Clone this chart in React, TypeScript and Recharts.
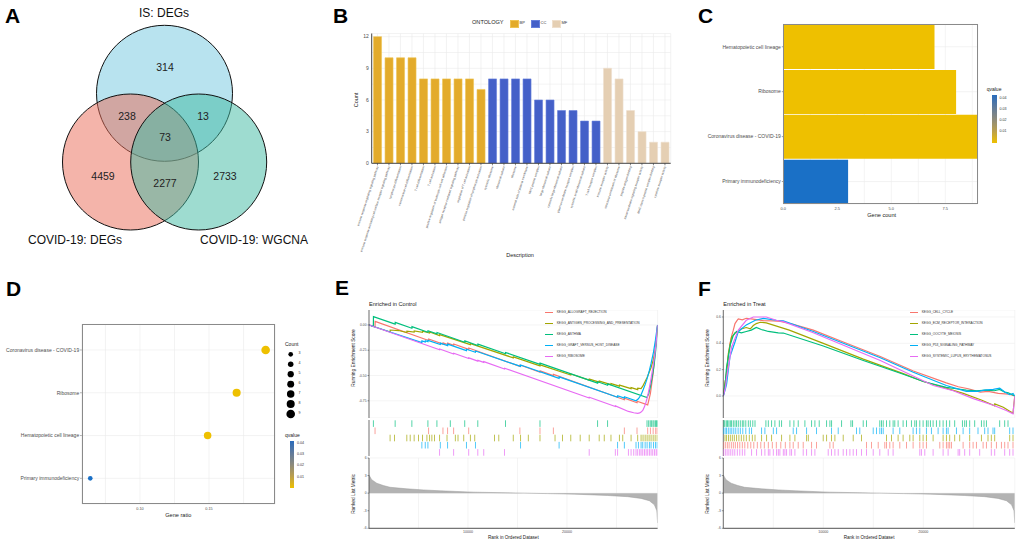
import React from 'react';
import {
  ScatterChart, Scatter, XAxis, YAxis, ZAxis, BarChart, Bar, Cell, CartesianGrid,
  LineChart, Line, AreaChart, Area,
} from 'recharts';

const FONT = '"Liberation Sans", Arial, Helvetica, sans-serif';

// ---------- A: Venn ----------
const vennSets = [
  { name: 'IS: DEGs', x: 164.5, y: 93.3, color: '#71c7df' },
  { name: 'COVID-19: DEGs', x: 130.5, y: 162, color: '#e96955' },
  { name: 'COVID-19: WGCNA', x: 198.7, y: 162, color: '#3db9a1' },
];
const vennCounts = [
  { label: '314', x: 165, y: 67 },
  { label: '238', x: 127, y: 116 },
  { label: '13', x: 203, y: 116 },
  { label: '73', x: 165, y: 137 },
  { label: '4459', x: 103, y: 176 },
  { label: '2277', x: 165, y: 183 },
  { label: '2733', x: 225, y: 176 },
];
const vennLabels = [
  { label: 'IS: DEGs', x: 164, y: 13 },
  { label: 'COVID-19: DEGs', x: 75, y: 240 },
  { label: 'COVID-19: WGCNA', x: 254, y: 240 },
];

// ---------- B: GO enrichment ----------
const goTerms = [
  'immune response-regulating signaling pathway',
  'immune response-activating cell surface receptor signaling pathway',
  'lymphocyte differentiation',
  'mononuclear cell differentiation',
  'T cell differentiation',
  'T cell activation',
  'positive regulation of leukocyte cell-cell adhesion',
  'antigen receptor-mediated signaling pathway',
  'regulation of T cell activation',
  'positive regulation of lymphocyte activation',
  'cytosolic ribosome',
  'ribosomal subunit',
  'ribosome',
  'external side of plasma membrane',
  'MHC protein complex',
  'large ribosomal subunit',
  'cytosolic large ribosomal subunit',
  'plasma membrane receptor complex',
  'cytosolic small ribosomal subunit',
  'T cell receptor complex',
  'immune receptor activity',
  'structural constituent of ribosome',
  'peptide antigen binding',
  'transmembrane signaling receptor activity',
  'MHC class II protein complex binding',
  'cytokine receptor activity',
];
const goOntology = [
  'BP', 'BP', 'BP', 'BP', 'BP', 'BP', 'BP', 'BP', 'BP', 'BP',
  'CC', 'CC', 'CC', 'CC', 'CC', 'CC', 'CC', 'CC', 'CC', 'CC',
  'MF', 'MF', 'MF', 'MF', 'MF', 'MF',
];
const goCounts = [12, 10, 10, 10, 8, 8, 8, 8, 8, 7, 8, 8, 8, 8, 6, 6, 5, 5, 4, 4, 9, 8, 5, 3, 2, 2];
const ontologyNames = ['BP', 'CC', 'MF'];
const ontologyColors: Record<string, string> = { BP: '#e3ab2b', CC: '#4460c8', MF: '#e5cfb3' };
const ontologyEdge: Record<string, string> = { BP: '#efc453', CC: '#6680dc', MF: '#efdfcc' };

// ---------- C / D: KEGG enrichment ----------
const keggTerms = ['Hematopoietic cell lineage', 'Ribosome', 'Coronavirus disease - COVID-19', 'Primary immunodeficiency'];
const keggCounts = [7, 8, 9, 3];
const keggRatios = [0.149, 0.170, 0.191, 0.064];
const keggQvalues = [0.0021, 0.0015, 0.0012, 0.046];
const qTicks = ['0.04', '0.03', '0.02', '0.01'];
const countLegend = [3, 4, 5, 6, 7, 8, 9];

// ---------- E / F: GSEA ----------
const N_GENES = 29150;
const rankGrid = [5000, 10000, 15000, 20000, 25000];
const setColors = ['#F8766D', '#A3A500', '#00BF7D', '#00B0F6', '#E76BF3'];

const controlSets = [
  'KEGG_ALLOGRAFT_REJECTION',
  'KEGG_ANTIGEN_PROCESSING_AND_PRESENTATION',
  'KEGG_ASTHMA',
  'KEGG_GRAFT_VERSUS_HOST_DISEASE',
  'KEGG_RIBOSOME',
];
const treatSets = [
  'KEGG_CELL_CYCLE',
  'KEGG_ECM_RECEPTOR_INTERACTION',
  'KEGG_OOCYTE_MEIOSIS',
  'KEGG_P53_SIGNALING_PATHWAY',
  'KEGG_SYSTEMIC_LUPUS_ERYTHEMATOSUS',
];

// running enrichment score, [rank, score]
const esAllograft = [[0, 0], [610, -0.02], [620, 0.035], [6020, -0.154], [6030, -0.139], [7470, -0.19], [7480, -0.177], [7940, -0.193], [7950, -0.18], [8550, -0.201], [8560, -0.188], [10070, -0.241], [10080, -0.228], [15240, -0.409], [15250, -0.396], [17270, -0.467], [17280, -0.454], [18620, -0.501], [18630, -0.488], [25790, -0.739], [25800, -0.724], [27070, -0.769], [27080, -0.754], [28150, -0.79], [28420, -0.68], [28700, -0.48], [28960, -0.2], [29100, -0.05], [29150, 0]];
const esAntigen = [[0, 0], [2130, -0.07], [2140, -0.05], [3000, -0.055], [3820, -0.075], [3830, -0.062], [4560, -0.07], [4570, -0.058], [5410, -0.072], [5420, -0.062], [6120, -0.08], [6130, -0.07], [7130, -0.105], [7140, -0.095], [10240, -0.195], [10250, -0.185], [14570, -0.325], [14580, -0.315], [17270, -0.405], [17280, -0.395], [20380, -0.495], [20390, -0.485], [22240, -0.545], [22250, -0.535], [23250, -0.565], [23260, -0.555], [24440, -0.59], [24450, -0.58], [25290, -0.605], [25300, -0.595], [26470, -0.63], [26480, -0.62], [27140, -0.64], [27150, -0.625], [27480, -0.63], [27680, -0.6], [27890, -0.56], [28090, -0.52], [28290, -0.47], [28490, -0.42], [28700, -0.35], [28900, -0.25], [29100, -0.07], [29150, 0]];
const esAsthma = [[0, 0], [440, -0.015], [450, 0.082], [2640, 0.008], [2650, 0.025], [4330, -0.032], [4340, -0.017], [5950, -0.072], [5960, -0.057], [6860, -0.088], [6870, -0.075], [9670, -0.171], [9680, -0.158], [10990, -0.203], [11000, -0.19], [13790, -0.285], [13800, -0.272], [17270, -0.39], [17280, -0.377], [23090, -0.575], [23100, -0.562], [24100, -0.596], [24110, -0.583], [28080, -0.718], [28250, -0.68], [28400, -0.62], [28520, -0.56], [28680, -0.47], [28790, -0.4], [28930, -0.28], [29050, -0.15], [29150, 0]];
const esGvhd = [[0, 0], [5340, -0.175], [5350, -0.158], [5680, -0.169], [5690, -0.156], [5950, -0.165], [5960, -0.152], [7200, -0.193], [7210, -0.18], [7940, -0.204], [7950, -0.19], [9840, -0.254], [9850, -0.24], [10750, -0.27], [10760, -0.257], [15310, -0.41], [15320, -0.396], [19200, -0.528], [19210, -0.514], [25110, -0.715], [25120, -0.7], [25790, -0.724], [25800, -0.71], [26970, -0.75], [27210, -0.73], [27480, -0.69], [27650, -0.65], [27890, -0.59], [28090, -0.53], [28320, -0.45], [28490, -0.38], [28730, -0.27], [28930, -0.15], [29100, -0.03], [29150, 0]];
const esRibosome = [[0, 0], [7130, -0.245], [7140, -0.238], [8550, -0.287], [8560, -0.28], [10070, -0.332], [10080, -0.325], [10990, -0.357], [11000, -0.35], [11590, -0.37], [11600, -0.363], [13690, -0.435], [13700, -0.428], [22240, -0.722], [22250, -0.715], [24880, -0.806], [24890, -0.8], [26200, -0.855], [26740, -0.868], [27140, -0.874], [27340, -0.87], [27480, -0.862], [27650, -0.845], [27820, -0.81], [27990, -0.76], [28150, -0.7], [28320, -0.62], [28490, -0.53], [28660, -0.43], [28830, -0.32], [29000, -0.18], [29150, 0]];

const esCellCycle = [[0, 0], [150, 0.08], [330, 0.19], [500, 0.3], [670, 0.4], [850, 0.46], [1000, 0.5], [1170, 0.55], [1350, 0.57], [1500, 0.585], [1900, 0.578], [2300, 0.59], [2800, 0.585], [3300, 0.58], [4000, 0.572], [5000, 0.57], [5700, 0.566], [7000, 0.545], [9000, 0.5], [12000, 0.41], [15700, 0.3], [19000, 0.19], [22300, 0.1], [23500, 0.07], [24500, 0.055], [25700, 0.03], [26500, 0.035], [27500, 0.02], [28500, 0.015], [29150, 0]];
const esEcm = [[0, 0], [170, 0.1], [330, 0.17], [500, 0.32], [830, 0.45], [1000, 0.46], [1170, 0.48], [1500, 0.49], [1800, 0.51], [2300, 0.52], [2700, 0.51], [3000, 0.535], [3300, 0.55], [3700, 0.56], [4300, 0.555], [6600, 0.5], [10000, 0.4], [14000, 0.28], [18000, 0.17], [20000, 0.11], [22000, 0.065], [24000, 0.02], [25800, -0.03], [27140, -0.075], [27150, -0.06], [28000, -0.085], [28640, -0.115], [28970, -0.13], [29150, 0]];
const esOocyte = [[0, 0], [200, 0.1], [330, 0.22], [700, 0.39], [1000, 0.46], [1330, 0.49], [1800, 0.48], [2300, 0.49], [2800, 0.5], [3300, 0.52], [3800, 0.505], [4500, 0.49], [5500, 0.48], [6000, 0.478], [10000, 0.38], [14000, 0.27], [18000, 0.165], [20000, 0.11], [22300, 0.065], [23300, 0.055], [24300, 0.045], [25300, 0.04], [26300, 0.045], [27100, 0.04], [27640, 0.05], [28140, 0.03], [28500, 0.025], [29150, 0]];
const esP53 = [[0, 0], [200, 0.05], [330, 0.09], [670, 0.3], [1170, 0.41], [1500, 0.49], [2300, 0.54], [3200, 0.575], [4000, 0.59], [5300, 0.575], [6000, 0.57], [9000, 0.49], [15700, 0.29], [19000, 0.18], [22300, 0.08], [24300, 0.035], [25500, 0.035], [26100, 0.045], [27000, 0.05], [27640, 0.06], [28140, 0.03], [28640, 0.01], [28970, 0.02], [29150, 0]];
const esSle = [[0, 0], [200, 0.06], [330, 0.14], [830, 0.37], [1500, 0.5], [2300, 0.575], [3000, 0.6], [4300, 0.6], [5300, 0.575], [6000, 0.565], [9000, 0.48], [15700, 0.27], [21000, 0.08], [23000, 0.04], [25000, -0.02], [27000, -0.07], [28300, -0.11], [28970, -0.135], [29150, 0]];

// gene hit positions (rank) for the rug rows
const hitsAllograft = [610, 6020, 7470, 7940, 8550, 10070, 15240, 17270, 18620, 25790, 27070, 28150, 28420, 28700, 28960, 29100];
const hitsAntigen = [2130, 2570, 3820, 4160, 4560, 5000, 5410, 5850, 6120, 6350, 6620, 7130, 7880, 8720, 8990, 9570, 10240, 10680, 12680, 13110, 14570, 15310, 16090, 17270, 18790, 19540, 20380, 21330, 22240, 23250, 23760, 24440, 25290, 25630, 26470, 27140, 27480, 27680, 27890, 28090, 28290, 28490, 28700, 28900, 29100];
const hitsAsthma = [440, 2640, 4330, 5950, 6860, 8210, 9670, 10990, 13790, 17270, 23090, 24100, 28080, 28250, 28400, 28520, 28680, 28790, 28930, 29050, 29120];
const hitsGvhd = [5340, 5680, 5950, 7200, 7940, 9840, 10750, 15310, 19200, 25110, 25790, 26970, 27210, 27480, 27650, 27890, 28090, 28320, 28490, 28730, 28930, 29100];
const hitsRibosome = [7130, 8550, 10070, 10990, 11590, 13690, 22240, 24880, 25110, 26200, 26470, 26740, 26970, 27140, 27340, 27480, 27650, 27820, 27990, 28150, 28320, 28490, 28660, 28830, 29000, 29100];

const hitsCellCycle = [30, 200, 400, 580, 800, 1000, 1200, 1430, 1650, 1900, 2150, 2450, 2750, 3050, 3400, 3750, 4100, 4500, 4900, 5300, 5750, 6200, 6660, 6990, 7490, 7990, 8830, 9320, 10660, 10990, 14320, 14820, 15490, 16150, 16320, 16650, 16980, 17650, 18320, 18980, 19650, 19980, 20310, 21650, 21980, 22310, 22480, 22640, 22810, 23980, 24640, 24980, 25310, 25980, 26310, 26800, 27310, 27810, 28140, 28470, 28970];
const hitsEcm = [170, 330, 520, 700, 900, 1100, 1330, 1560, 1800, 2050, 2300, 2600, 2900, 3170, 3830, 4330, 4830, 5830, 6660, 7160, 8330, 8500, 9990, 10330, 10820, 11160, 11990, 12990, 13820, 16320, 16820, 17480, 17980, 18650, 18980, 19650, 19980, 20310, 20980, 21980, 22310, 22640, 23140, 23640, 24640, 25810, 26470, 26800, 27140, 28640, 28970];
const hitsOocyte = [50, 150, 300, 420, 560, 700, 830, 1000, 1170, 1330, 1500, 1700, 1900, 2050, 2250, 2500, 2700, 2950, 3170, 4260, 4500, 4830, 5160, 5600, 5830, 6660, 7060, 7490, 8160, 8830, 9160, 9590, 10330, 10660, 10830, 11830, 12760, 12930, 13990, 14320, 15650, 15820, 15990, 16320, 16650, 16980, 17150, 17480, 17980, 18320, 18810, 19150, 19310, 19650, 19980, 20310, 20480, 20710, 20980, 21310, 21650, 21980, 22310, 22640, 23140, 23910, 24140, 24310, 24640, 25140, 25810, 26070, 26310, 27640, 28140, 28470];
const hitsP53 = [30, 180, 330, 500, 680, 850, 1050, 1250, 1480, 1700, 1950, 2250, 2600, 2830, 3830, 4160, 5000, 5330, 6990, 7330, 8330, 9320, 10820, 11490, 13320, 13650, 14990, 15320, 15650, 15820, 15990, 16980, 17650, 18980, 19310, 19650, 20310, 20810, 21480, 21980, 22310, 22480, 23310, 23980, 24640, 25470, 26140, 26470, 26970, 27140, 28640, 28970];
const hitsSle = [30, 200, 380, 560, 750, 950, 1150, 1400, 1650, 1900, 2150, 2830, 3330, 3830, 4160, 4500, 4660, 5000, 5330, 5500, 5660, 6000, 6160, 6330, 6660, 6830, 7160, 7990, 8330, 8830, 9160, 10490, 10820, 11160, 11490, 11990, 12330, 12660, 12990, 13320, 13820, 14320, 14990, 15650, 16490, 16980, 19650, 19810, 20150, 20980, 21980, 22480, 23480, 23640, 24140, 24640, 25640, 26800, 27140, 28140, 28640, 28970];

// rug row (1 = top) for each set, in legend order
const controlRows = [2, 3, 1, 4, 5];
const treatRows = [4, 3, 1, 2, 5];

// ranked list metric, [rank, value]
const rankedMetric = [[0, 3.1], [270, 2.3], [780, 1.7], [1450, 1.3], [2130, 1.0], [3820, 0.74], [5510, 0.55], [7200, 0.4], [10580, 0.17], [13960, 0.06], [15650, 0], [18020, -0.08], [20720, -0.17], [24100, -0.4], [26130, -0.6], [27480, -0.9], [28320, -1.3], [28830, -2.0], [29070, -3.0], [29150, -5.1]];

// ---------- helpers ----------
const GOLD = '#eec000';
const BLUE = '#1a70c6';
const qColor = (q: number) => (q > 0.02 ? BLUE : GOLD);
const Q_GRADIENT = 'linear-gradient(to bottom, #2a6cbc 0%, #5f7a9c 25%, #8c8a7c 50%, #bb9f4c 75%, #eec000 100%)';

type Anchor = 'start' | 'middle' | 'end';
const Txt: React.FC<{ x: number; y: number; size: number; anchor?: Anchor; rotate?: number; color?: string; bold?: boolean; children: React.ReactNode }> = ({ x, y, size, anchor = 'start', rotate = 0, color = '#1a1a1a', bold, children }) => {
  const tx = anchor === 'start' ? '0' : anchor === 'middle' ? '-50%' : '-100%';
  return (
    <div style={{ position: 'absolute', left: x, top: y, fontSize: size, lineHeight: 1, color, fontWeight: bold ? 700 : 400, whiteSpace: 'nowrap', transformOrigin: '0 0', transform: `rotate(${rotate}deg) translate(${tx}, -50%)` }}>
      {children}
    </div>
  );
};

const Abs: React.FC<{ x: number; y: number; children: React.ReactNode }> = ({ x, y, children }) => (
  <div style={{ position: 'absolute', left: x, top: y }}>{children}</div>
);

const toPts = (arr: number[][], key: string) => arr.map(([rank, v]) => ({ rank, [key]: v }));

// y-axis label without word wrapping
const LabelTick = (props: any) => {
  const { x, y, payload, format } = props;
  const label = format ? format(payload.value) : payload.value;
  return (
    <text x={x} y={y} dy="0.35em" textAnchor="end" fontSize={5} fill="#4d4d4d">{label}</text>
  );
};

// ---------- panels ----------
const VennPanel = () => (
  <Abs x={0} y={0}>
    <ScatterChart width={340} height={270} margin={{ top: 0, right: 0, bottom: 0, left: 0 }}>
      <XAxis type="number" dataKey="x" domain={[0, 340]} hide allowDataOverflow />
      <YAxis type="number" dataKey="y" domain={[0, 270]} reversed hide allowDataOverflow />
      <Scatter
        data={vennSets}
        isAnimationActive={false}
        shape={(p: any) => <circle cx={p.cx} cy={p.cy} r={68} fill={p.payload.color} fillOpacity={0.5} stroke="#111" strokeWidth={1} />}
      />
      <Scatter
        data={vennCounts}
        isAnimationActive={false}
        shape={(p: any) => <text x={p.cx} y={p.cy} dy="0.35em" textAnchor="middle" fontSize={10.5} fill="#222">{p.payload.label}</text>}
      />
      <Scatter
        data={vennLabels}
        isAnimationActive={false}
        shape={(p: any) => <text x={p.cx} y={p.cy} dy="0.35em" textAnchor="middle" fontSize={12} fill="#111">{p.payload.label}</text>}
      />
    </ScatterChart>
  </Abs>
);

const GoTick = (props: any) => {
  const { x, y, payload } = props;
  return (
    <g transform={`translate(${x},${y})`}>
      <text x={0} y={0} dy="0.35em" transform="rotate(-72)" textAnchor="end" fontSize={3} fill="#4d4d4d">{payload.value}</text>
    </g>
  );
};

const GoPanel = () => {
  const data = goTerms.map((term, i) => ({ term, count: goCounts[i], ontology: goOntology[i] }));
  return (
    <>
      <Abs x={340} y={0}>
        <BarChart width={340} height={270} data={data} margin={{ top: 33.5, right: 9.3, left: 0, bottom: 0 }} barCategoryGap="16%">
          <CartesianGrid stroke="#ebebeb" strokeWidth={0.6} />
          <XAxis dataKey="term" interval={0} height={106.7} tick={<GoTick />} tickSize={2} tickMargin={1} tickLine={{ stroke: '#333', strokeWidth: 0.6 }} axisLine={{ stroke: '#333', strokeWidth: 0.9 }} />
          <YAxis type="number" domain={[0, 12.3]} allowDataOverflow ticks={[0, 1.5, 3, 4.5, 6, 7.5, 9, 10.5, 12]} tickFormatter={(v: number) => (v % 3 === 0 ? String(v) : '')} width={31.7} tick={{ fontSize: 5, fill: '#4d4d4d' }} tickLine={false} tickSize={2} tickMargin={1} axisLine={{ stroke: '#333', strokeWidth: 0.9 }} />
          <Bar dataKey="count" isAnimationActive={false}>
            {data.map((d, i) => (
              <Cell key={i} fill={ontologyColors[d.ontology]} stroke={ontologyEdge[d.ontology]} strokeWidth={0.6} />
            ))}
          </Bar>
        </BarChart>
      </Abs>
      <Txt x={472} y={22.7} size={5.6} color="#222">ONTOLOGY</Txt>
      {ontologyNames.map((o, i) => (
        <React.Fragment key={o}>
          <div style={{ position: 'absolute', left: 510 + i * 21, top: 19.8, width: 7, height: 6, background: ontologyColors[o], border: `0.5px solid ${ontologyEdge[o]}` }} />
          <Txt x={519.5 + i * 21} y={22.8} size={4} color="#333">{o}</Txt>
        </React.Fragment>
      ))}
      <Txt x={356.5} y={100} size={5.5} anchor="middle" rotate={-90} color="#222">Count</Txt>
      <Txt x={520} y={255.5} size={5.5} anchor="middle" color="#222">Description</Txt>
    </>
  );
};

const KeggBarPanel = () => {
  const data = keggTerms.map((name, i) => ({ name, count: keggCounts[i], q: keggQvalues[i] }));
  return (
    <>
      <Abs x={680} y={0}>
        <BarChart layout="vertical" width={340} height={270} data={data} margin={{ top: 24.3, right: 42.3, left: 0, bottom: 52 }} barCategoryGap={0.7}>
          <CartesianGrid stroke="#ebebeb" strokeWidth={0.6} />
          <XAxis type="number" domain={[0, 9]} allowDataOverflow ticks={[0, 1.25, 2.5, 3.75, 5, 6.25, 7.5, 8.75]} tickFormatter={(v: number) => ([0, 2.5, 5, 7.5].includes(v) ? v.toFixed(1) : '')} height={14} tick={{ fontSize: 4, fill: '#4d4d4d' }} tickLine={false} tickSize={1.5} tickMargin={1.2} axisLine={false} />
          <YAxis type="category" dataKey="name" width={103.3} tick={<LabelTick />} tickSize={1.5} tickMargin={1} tickLine={{ stroke: '#444', strokeWidth: 0.5 }} axisLine={false} />
          <Bar dataKey="count" isAnimationActive={false}>
            {data.map((d, i) => (
              <Cell key={i} fill={qColor(d.q)} />
            ))}
          </Bar>
        </BarChart>
      </Abs>
      <div style={{ position: 'absolute', left: 783.3, top: 24.3, width: 194.4, height: 179.7, border: '0.8px solid #8a8a8a', boxSizing: 'border-box' }} />
      <Txt x={881.7} y={216.3} size={5.6} anchor="middle" color="#222">Gene count</Txt>
      <Txt x={986.7} y={89.3} size={5} color="#222">qvalue</Txt>
      <div style={{ position: 'absolute', left: 992.3, top: 95, width: 4.4, height: 47.7, background: Q_GRADIENT }} />
      {qTicks.map((t, i) => (
        <Txt key={t} x={999.5} y={98.7 + i * 11} size={3.6} color="#333">{t}</Txt>
      ))}
    </>
  );
};

const KeggDotPanel = () => {
  const order = keggRatios.map((_, i) => i).sort((a, b) => keggRatios[a] - keggRatios[b]);
  const data = keggTerms.map((name, i) => ({ name, ratio: keggRatios[i], pos: order.indexOf(i) + 1, count: keggCounts[i], q: keggQvalues[i] }));
  const nameAt = (pos: number) => (data.find((d) => d.pos === pos) || { name: '' }).name;
  return (
    <>
      <Abs x={0} y={270}>
        <ScatterChart width={340} height={274} margin={{ top: 54.3, right: 64.7, left: 0, bottom: 26 }}>
          <CartesianGrid stroke="#ebebeb" strokeWidth={0.6} />
          <XAxis type="number" dataKey="ratio" domain={[0.0578, 0.198]} allowDataOverflow ticks={[0.075, 0.1, 0.125, 0.15, 0.175]} tickFormatter={(v: number) => (v === 0.1 || v === 0.15 ? v.toFixed(2) : '')} height={14} tick={{ fontSize: 3.8, fill: '#4d4d4d' }} tickLine={false} tickSize={1.5} tickMargin={1.5} axisLine={false} />
          <YAxis type="number" dataKey="pos" domain={[0.4, 4.6]} allowDataOverflow ticks={[1, 2, 3, 4]} tick={<LabelTick format={nameAt} />} width={81.7} tickSize={1.5} tickMargin={1} tickLine={{ stroke: '#444', strokeWidth: 0.5 }} axisLine={false} />
          <ZAxis type="number" dataKey="count" domain={[3, 9]} range={[17, 58]} />
          <Scatter data={data} isAnimationActive={false}>
            {data.map((d, i) => (
              <Cell key={i} fill={qColor(d.q)} />
            ))}
          </Scatter>
        </ScatterChart>
      </Abs>
      <div style={{ position: 'absolute', left: 81.7, top: 324.3, width: 193.6, height: 179.7, border: '0.8px solid #8a8a8a', boxSizing: 'border-box' }} />
      <Txt x={178.3} y={516} size={5.6} anchor="middle" color="#222">Gene ratio</Txt>
      <Txt x={285} y={344} size={5} color="#222">Count</Txt>
      <svg style={{ position: 'absolute', left: 280, top: 345 }} width={30} height={80}>
        {countLegend.map((c, i) => (
          <circle key={c} cx={10.7} cy={9.3 + i * 9.95} r={Math.sqrt((17 + ((c - 3) * 41) / 6) / Math.PI)} fill="#000" />
        ))}
      </svg>
      {countLegend.map((c, i) => (
        <Txt key={c} x={298.5} y={354.3 + i * 9.95} size={3.6} color="#333">{String(c)}</Txt>
      ))}
      <Txt x={285} y={435} size={5} color="#222">qvalue</Txt>
      <div style={{ position: 'absolute', left: 290, top: 441, width: 4.2, height: 47.3, background: Q_GRADIENT }} />
      {qTicks.map((t, i) => (
        <Txt key={t} x={297} y={444 + i * 11.2} size={3.6} color="#333">{t}</Txt>
      ))}
    </>
  );
};

type GseaProps = {
  left: number;
  plotLeft: number;
  plotRightMargin: number;
  title: string;
  names: string[];
  curves: number[][][];
  hits: number[][];
  rows: number[];
  esDomain: [number, number];
  esTicks: number[];
  esDigits: number;
  legendX: number;
};

const GseaPanel: React.FC<GseaProps> = ({ left, plotLeft, plotRightMargin, title, names, curves, hits, rows, esDomain, esTicks, esDigits, legendX }) => {
  const width = 340;
  const metric = toPts(rankedMetric, 'metric');
  const absPlotLeft = left + plotLeft;
  const absPlotRight = left + width - plotRightMargin;
  const axisX = absPlotLeft - 15.5;
  return (
    <>
      <Txt x={absPlotLeft} y={305} size={5.6} color="#222">{title}</Txt>
      <Abs x={left} y={310}>
        <LineChart width={width} height={108} margin={{ top: 0, right: plotRightMargin, left: 0, bottom: 0 }}>
          <CartesianGrid stroke="#ececec" strokeWidth={0.6} />
          <XAxis type="number" dataKey="rank" domain={[0, N_GENES]} allowDataOverflow ticks={rankGrid} tick={false} tickLine={false} axisLine={false} height={0} />
          <YAxis type="number" domain={esDomain} allowDataOverflow ticks={esTicks} tickFormatter={(v: number) => v.toFixed(esDigits)} width={plotLeft} tick={{ fontSize: 3.3, fill: '#4d4d4d' }} tickSize={1.5} tickMargin={1} tickLine={{ stroke: '#333', strokeWidth: 0.5 }} axisLine={{ stroke: '#333', strokeWidth: 0.7 }} />
          {curves.map((c, i) => (
            <Line key={names[i]} data={toPts(c, 'es')} dataKey="es" type="linear" stroke={setColors[i]} strokeWidth={1.2} dot={false} isAnimationActive={false} />
          ))}
        </LineChart>
      </Abs>
      <Abs x={left} y={419.5}>
        <ScatterChart width={width} height={36} margin={{ top: 0, right: plotRightMargin, left: 0, bottom: 0 }}>
          <XAxis type="number" dataKey="rank" domain={[0, N_GENES]} allowDataOverflow hide />
          <YAxis type="number" dataKey="row" domain={[0.5, 5.5]} allowDataOverflow reversed width={plotLeft} tick={false} tickLine={false} axisLine={{ stroke: '#333', strokeWidth: 0.7 }} />
          {hits.map((h, i) => (
            <Scatter
              key={names[i]}
              data={h.map((rank) => ({ rank, row: rows[i] }))}
              isAnimationActive={false}
              shape={(p: any) => <rect x={p.cx - 0.45} y={p.cy - 3.3} width={0.9} height={6.6} fill={setColors[i]} fillOpacity={0.75} />}
            />
          ))}
        </ScatterChart>
      </Abs>
      <Abs x={left} y={454}>
        <AreaChart width={width} height={84} data={metric} margin={{ top: 4, right: plotRightMargin, left: 0, bottom: 0 }}>
          <CartesianGrid stroke="#ececec" strokeWidth={0.6} />
          <XAxis type="number" dataKey="rank" domain={[0, N_GENES]} allowDataOverflow ticks={rankGrid} tickFormatter={(v: number) => (v === 10000 || v === 20000 ? String(v) : '')} height={9.7} tick={{ fontSize: 3.6, fill: '#4d4d4d' }} tickLine={false} tickSize={1} tickMargin={1.5} axisLine={{ stroke: '#555', strokeWidth: 1 }} />
          <YAxis type="number" domain={[-6, 6]} allowDataOverflow ticks={[-6, -3, 0, 3, 6]} width={plotLeft} tick={{ fontSize: 3.3, fill: '#4d4d4d' }} tickSize={1.5} tickMargin={1} tickLine={{ stroke: '#333', strokeWidth: 0.5 }} axisLine={{ stroke: '#333', strokeWidth: 0.7 }} />
          <Area dataKey="metric" type="linear" baseValue={0} stroke="#9a9a9a" strokeWidth={0.5} fill="#b3b3b3" fillOpacity={1} isAnimationActive={false} />
        </AreaChart>
      </Abs>
      <Txt x={axisX} y={358} size={4.8} anchor="middle" rotate={-90} color="#222">Running Enrichment Score</Txt>
      <Txt x={axisX} y={494} size={4.8} anchor="middle" rotate={-90} color="#222">Ranked List Metric</Txt>
      <Txt x={(absPlotLeft + absPlotRight) / 2} y={537.7} size={4.6} anchor="middle" color="#222">Rank in Ordered Dataset</Txt>
      {names.map((n, i) => (
        <React.Fragment key={n}>
          <div style={{ position: 'absolute', left: legendX, top: 312.7 + i * 11 - 0.6, width: 8.3, height: 1.2, background: setColors[i] }} />
          <Txt x={legendX + 11.7} y={312.7 + i * 11} size={3.2} color="#333">{n}</Txt>
        </React.Fragment>
      ))}
    </>
  );
};

const letters = [
  { t: 'A', x: 5, y: 14.5 },
  { t: 'B', x: 333, y: 14.5 },
  { t: 'C', x: 698, y: 14.5 },
  { t: 'D', x: 6, y: 287.5 },
  { t: 'E', x: 335, y: 287 },
  { t: 'F', x: 698, y: 287.5 },
];

export default function App() {
  return (
    <div style={{ position: 'absolute', left: 0, top: 0, width: 1020, height: 544, overflow: 'hidden', background: '#fff', fontFamily: FONT }}>
      <VennPanel />
      <GoPanel />
      <KeggBarPanel />
      <KeggDotPanel />
      <GseaPanel
        left={340}
        plotLeft={29}
        plotRightMargin={22.4}
        title="Enriched in Control"
        names={controlSets}
        curves={[esAllograft, esAntigen, esAsthma, esGvhd, esRibosome]}
        hits={[hitsAllograft, hitsAntigen, hitsAsthma, hitsGvhd, hitsRibosome]}
        rows={controlRows}
        esDomain={[-0.92, 0.148]}
        esTicks={[-0.75, -0.5, -0.25, 0]}
        esDigits={2}
        legendX={545}
      />
      <GseaPanel
        left={680}
        plotLeft={43.3}
        plotRightMargin={5.2}
        title="Enriched in Treat"
        names={treatSets}
        curves={[esCellCycle, esEcm, esOocyte, esP53, esSle]}
        hits={[hitsCellCycle, hitsEcm, hitsOocyte, hitsP53, hitsSle]}
        rows={treatRows}
        esDomain={[-0.167, 0.653]}
        esTicks={[0, 0.2, 0.4, 0.6]}
        esDigits={1}
        legendX={910}
      />
      {letters.map((l) => (
        <Txt key={l.t} x={l.x} y={l.y} size={21} bold color="#000">{l.t}</Txt>
      ))}
    </div>
  );
}
